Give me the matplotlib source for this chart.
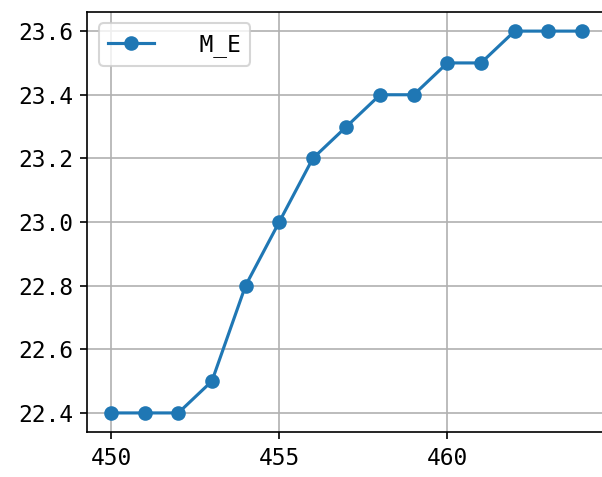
import matplotlib
matplotlib.use("Agg")
import matplotlib.pyplot as plt

x_vals = [450, 451, 452, 453, 454, 455, 456, 457, 458, 459, 460, 461, 462, 463, 464]
y_vals = [22.4, 22.4, 22.4, 22.5, 22.8, 23.0, 23.2, 23.3, 23.4, 23.4, 23.5, 23.5, 23.6, 23.6, 23.6]
label = "  M_E"

plt.rcParams['font.family'] = ['DejaVu Sans Mono', 'DejaVu Sans']
plt.rcParams['font.size'] = 11

fig = plt.figure(figsize=(602/150, 477/150), dpi=150)
ax = fig.add_axes([0.1453, 0.0943, 0.8605, 0.8805])
ax.plot(x_vals, y_vals, marker='o', color='#1f77b4', label=label)
ax.grid(True)
ax.set_xticks([450, 455, 460])
ax.set_yticks([22.4, 22.6, 22.8, 23.0, 23.2, 23.4, 23.6])
ax.set_yticklabels(["22.4", "22.6", "22.8", "23.0", "23.2", "23.4", "23.6"])
ax.legend(loc='upper left')
fig.savefig("out.png", dpi=150)
